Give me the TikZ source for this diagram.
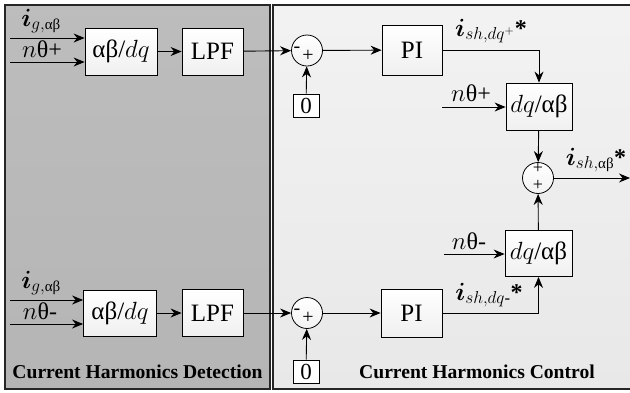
\documentclass[tikz,border=0pt]{standalone}
\usepackage{amsmath,bm}
\usepackage{fontspec}
\setmainfont{LiberationSerif}[Extension=.ttf, UprightFont=*-Regular, BoldFont=*-Bold, ItalicFont=*-Italic, BoldItalicFont=*-BoldItalic]
\usetikzlibrary{arrows.meta,shadings}
\tikzset{
  blk/.style={draw=black, line width=0.8pt, top color=white, bottom color=gray!12, font=\fontsize{25}{27}\selectfont, inner sep=0pt},
  sumc/.style={draw=black, line width=0.8pt, circle, minimum size=31pt, inner sep=0pt, top color=white, bottom color=gray!10},
  zbox/.style={draw=black, line width=0.8pt, fill=white, minimum width=26pt, minimum height=23pt, inner sep=0pt, font=\fontsize{23}{24}\selectfont},
  arr/.style={line width=0.9pt, -{Stealth[length=11pt,width=9pt]}},
  lbl/.style={font=\fontsize{24}{26}\selectfont, inner sep=0pt},
  sgn/.style={font=\fontsize{20}{22}\selectfont, inner sep=0pt, text height=8pt, text depth=0pt},
  sgns/.style={font=\fontsize{18}{19}\selectfont, inner sep=0pt, text height=6pt, text depth=0pt},
  ttl/.style={font=\fontsize{19.6}{21}\selectfont\bfseries, inner sep=0pt}
}
\newcommand{\smab}{\text{\fontsize{15}{16}\selectfont αβ}}
\begin{document}
\begin{tikzpicture}[x=1pt,y=-1pt]
\useasboundingbox (0,0) rectangle (630,392);
% panels
\shade[top color=gray!52, bottom color=gray!58] (5,5) rectangle (270,389);
\draw[line width=1.2pt, gray!30!black] (5,389) -- (5,5) -- (270,5) -- (270,389) -- cycle;
\shade[top color=gray!10, bottom color=gray!18] (273,5) rectangle (632,389);
\draw[line width=1.2pt, gray!30!black] (632,389) -- (273,389) -- (273,5) -- (632,5);
\node[ttl] (t1) at (137.5,372) {Current Harmonics Detection};
\node[ttl] (t2) at (477,372) {Current Harmonics Control};

% top chain
\node[blk, minimum width=72pt, minimum height=47pt] (A1) at (121,51.5) {αβ/$dq$};
\node[blk, minimum width=61pt, minimum height=47pt] (L1) at (212.5,51.5) {LPF};
\node[sumc] (S1) at (307,50.5) {};
\node[zbox] (Z1) at (306,105.5) {0};
\node[blk, minimum width=60pt, minimum height=50pt] (P1) at (412,50) {PI};
\node[blk, minimum width=66pt, minimum height=47pt] (D1) at (539,106.5) {$dq$/αβ};
\node[sumc] (S3) at (538,178) {};
\node[blk, minimum width=67pt, minimum height=46pt] (D2) at (538.5,253.5) {$dq$/αβ};

% bottom chain
\node[blk, minimum width=73pt, minimum height=46pt] (A2) at (120,313) {αβ/$dq$};
\node[blk, minimum width=61pt, minimum height=47pt] (L2) at (212.5,313) {LPF};
\node[sumc] (S2) at (307,313) {};
\node[zbox] (Z2) at (306,371.5) {0};
\node[blk, minimum width=61pt, minimum height=48pt] (P2) at (411.5,313) {PI};

% signs
\node[sgn] (s1m) at (297,48) {-};
\node[sgn] (s1p) at (308,57) {+};
\node[sgn] (s2m) at (297,310.5) {-};
\node[sgn] (s2p) at (308,319.5) {+};
\node[sgns] (s3a) at (538,170) {+};
\node[sgns] (s3b) at (538,187) {+};

% inputs
\coordinate (in1) at (10,38);
\coordinate (in2) at (10,62);
\coordinate (in3) at (10,300);
\coordinate (in4) at (10,324);
\draw[arr] (in1) -- (in1 -| A1.west);
\draw[arr] (in2) -- (in2 -| A1.west);
\draw[arr] (in3) -- (in3 -| A2.west);
\draw[arr] (in4) -- (in4 -| A2.west);
\node[lbl] (li1) at (41,21) {$\bm{i}_{g,\smab}$};
\node[lbl] (ln1) at (42,49) {$n$θ+};
\node[lbl] (li2) at (41,283) {$\bm{i}_{g,\smab}$};
\node[lbl] (ln2) at (40,311) {$n$θ-};

% chains
\draw[arr] (A1) -- (L1);
\draw[arr] (L1) -- (S1);
\draw[arr] (Z1) -- (S1);
\draw[arr] (S1) -- (P1);
\draw[arr] (P1.east) -| (D1.north);
\draw[arr] (A2) -- (L2);
\draw[arr] (L2) -- (S2);
\draw[arr] (Z2) -- (S2);
\draw[arr] (S2) -- (P2);
\draw[arr] (P2.east) -| (D2.south);
\draw[arr] (D1) -- (S3);
\draw[arr] (D2) -- (S3);
\coordinate (out) at (630,178);
\draw[arr] (S3) -- (out);

\coordinate (th1) at (442,107);
\coordinate (th2) at (444,254);
\draw[arr] (th1) -- (th1 -| D1.west);
\draw[arr] (th2) -- (th2 -| D2.west);
\node[lbl] (lt1) at (471,93) {$n$θ+};
\node[lbl] (lt2) at (469,241) {$n$θ-};

\node[lbl] (lo1) at (491,31) {$\bm{i}_{sh,dq^{+}}$\textbf{*}};
\node[lbl] (lo2) at (489,295) {$\bm{i}_{sh,dq\text{-}}$\textbf{*}};
\node[lbl] (lo3) at (596,160) {$\bm{i}_{sh,\smab}$\textbf{*}};
\end{tikzpicture}
\end{document}
